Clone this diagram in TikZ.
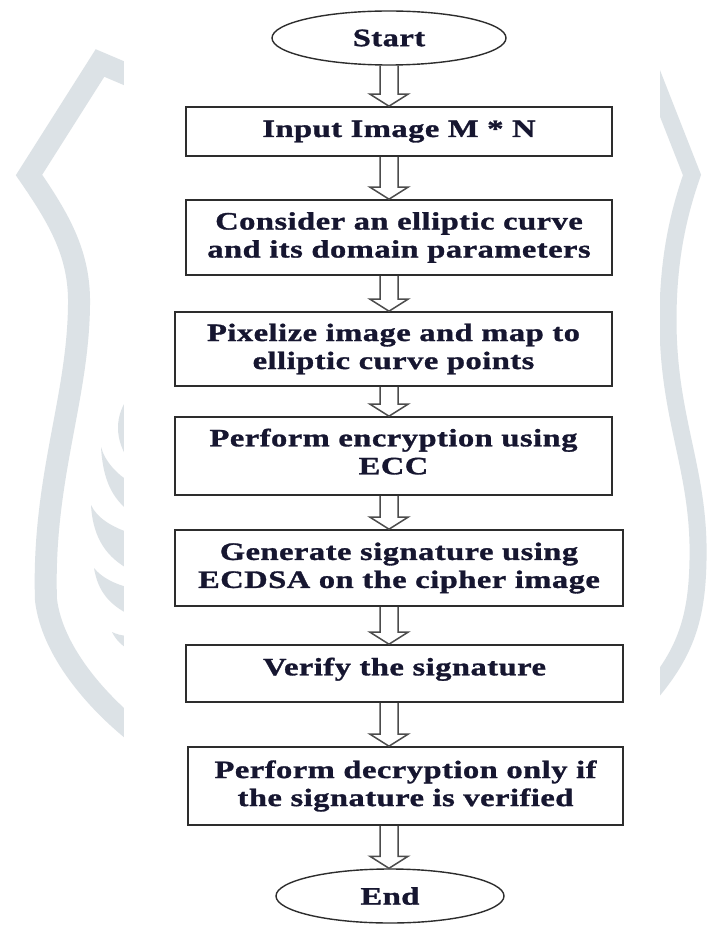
\documentclass[tikz,border=0pt]{standalone}
\usepackage{fontspec}
\setmainfont[FakeStretch=1.3,LetterSpace=2,FakeBold=1.2]{Liberation Serif}
\usetikzlibrary{calc,shapes.geometric}
\definecolor{wm}{RGB}{220,226,230}
\definecolor{ink}{RGB}{22,22,48}
\definecolor{edge}{RGB}{45,45,45}
\tikzset{
  txt/.style={font=\fontsize{25}{28}\selectfont\bfseries, text=ink, align=center},
  box/.style={txt, draw=edge, line width=1.6pt, fill=white, inner sep=0pt},
  term/.style={txt, ellipse, draw=edge, line width=1.4pt, fill=white, inner sep=0pt,
    minimum width=234pt, minimum height=54pt},
  barrow/.style={draw=edge!85!white, line width=1.5pt, line join=miter},
  band/.style={draw=wm, line join=miter},
}
\newcommand{\flowarrow}[2]{%
  \draw[barrow] let \p1=(#1.south -| ax), \p2=(#2.north -| ax) in
    (\x1-9pt,\y1) -- (\x1-9pt,\y2+12pt) -- (\x1-19pt,\y2+12pt) -- (\x1,\y2)
    -- (\x1+19pt,\y2+12pt) -- (\x1+9pt,\y2+12pt) -- (\x1+9pt,\y1);}
\begin{document}
\begin{tikzpicture}[x=1pt,y=-1pt]
\fill[white] (0,0) rectangle (715,925);
\useasboundingbox (0,0) rectangle (715,925);
% watermark
\draw[band, line width=22pt] (140,80) -- (100,63) -- (29,175)
  .. controls (60,220) and (80,255) .. (79,305)
  .. controls (78,400) and (42,480) .. (46,600)
  .. controls (52,650) and (95,700) .. (135,732);
\draw[band, line width=17pt] (650,68) -- (692,175)
  .. controls (678,215) and (668,260) .. (668,320)
  .. controls (668,420) and (700,470) .. (698,560)
  .. controls (697,620) and (685,655) .. (645,700);
\fill[wm] (130,395) .. controls (114,415) and (114,440) .. (130,462) -- cycle;
\fill[wm] (101,447) .. controls (103,480) and (112,498) .. (130,512) -- (130,482)
  .. controls (118,475) and (105,462) .. (101,447) -- cycle;
\fill[wm] (91,505) .. controls (93,540) and (108,558) .. (130,570) -- (130,533)
  .. controls (112,527) and (97,518) .. (91,505) -- cycle;
\fill[wm] (94,568) .. controls (98,592) and (110,605) .. (130,615) -- (130,588)
  .. controls (115,584) and (102,578) .. (94,568) -- cycle;
\fill[wm] (112,632) .. controls (116,640) and (122,646) .. (130,650) -- (130,636)
  .. controls (122,636) and (116,634) .. (112,632) -- cycle;
\fill[white] (124,0) rectangle (660,925);
% flowchart
\coordinate (ax) at (389,0);
\node[term] (start) at (389,38) {Start};
\node[box, minimum width=426pt, minimum height=49pt] (b1) at (399,131.5) {Input Image M * N};
\node[box, minimum width=426pt, minimum height=75pt] (b2) at (399,237.5) {Consider an elliptic curve\\and its domain parameters};
\node[box, minimum width=437pt, minimum height=74pt] (b3) at (393.5,349) {Pixelize image and map to\\elliptic curve points};
\node[box, minimum width=437pt, minimum height=78pt, text depth=9pt] (b4) at (393.5,456) {Perform encryption using\\ECC};
\node[box, minimum width=448pt, minimum height=76pt] (b5) at (399,568) {Generate signature using\\ECDSA on the cipher image};
\node[box, minimum width=437pt, minimum height=57pt, text depth=14pt] (b6) at (404.5,673.5) {Verify the signature};
\node[box, minimum width=435pt, minimum height=78pt] (b7) at (405.5,786) {Perform decryption only if\\the signature is verified};
\node[term, minimum width=228pt] (end) at (390,896) {End};
\flowarrow{start}{b1}
\flowarrow{b1}{b2}
\flowarrow{b2}{b3}
\flowarrow{b3}{b4}
\flowarrow{b4}{b5}
\flowarrow{b5}{b6}
\flowarrow{b6}{b7}
\flowarrow{b7}{end}
\end{tikzpicture}
\end{document}
